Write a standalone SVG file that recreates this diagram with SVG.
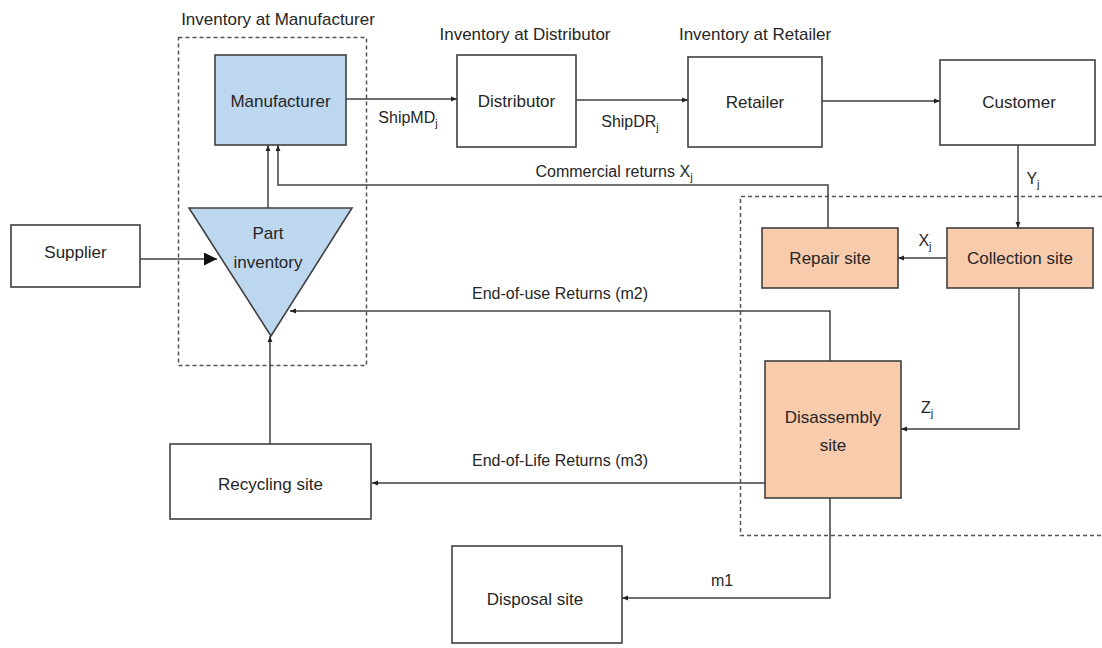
<svg xmlns="http://www.w3.org/2000/svg" width="1102" height="648" viewBox="0 0 1102 648">
<style>
text{font-family:"Liberation Sans",Arial,sans-serif;font-size:17px;fill:#262626;text-anchor:middle}
.box{fill:#fff;stroke:#404040;stroke-width:1.6}
.blue{fill:#BDD7EE;stroke:#404040;stroke-width:1.6}
.orange{fill:#F8CBAD;stroke:#404040;stroke-width:1.6}
.dash{fill:none;stroke:#555;stroke-width:1.5;stroke-dasharray:4 3}
.c{fill:none;stroke:#404040;stroke-width:1.5}
.lbl{font-size:16px}
</style>
<defs>
<marker id="a" viewBox="0 0 10 10" refX="10" refY="5" markerWidth="6" markerHeight="6" markerUnits="userSpaceOnUse" orient="auto"><path d="M0,1 L10,5 L0,9 z" fill="#222"/></marker>
<marker id="big" viewBox="0 0 10 10" refX="10" refY="5" markerWidth="13" markerHeight="13" markerUnits="userSpaceOnUse" orient="auto"><path d="M0,0 L10,5 L0,10 z" fill="#111"/></marker>
</defs>
<g id="dashed-groups">
<rect class="dash" x="178.5" y="37.5" width="188" height="328"/>
<path class="dash" d="M1102,196.5 H740.5 V535.5 H1102"/>
</g>
<g id="group-labels">
<text x="278" y="25">Inventory at Manufacturer</text>
<text x="525" y="40">Inventory at Distributor</text>
<text x="755" y="40">Inventory at Retailer</text>
</g>
<g id="connectors">
<path class="c" d="M346,99 H457" marker-end="url(#a)"/>
<path class="c" d="M576,100 H688" marker-end="url(#a)"/>
<path class="c" d="M822,101 H940" marker-end="url(#a)"/>
<path class="c" d="M1018,145 V228" marker-end="url(#a)"/>
<path class="c" d="M946,258 H898" marker-end="url(#a)"/>
<path class="c" d="M828,228 V185 H278 V145" marker-end="url(#a)"/>
<path class="c" d="M268,208 V145" marker-end="url(#a)"/>
<path class="c" d="M140,259 H217" stroke-width="2" marker-end="url(#big)"/>
<path class="c" d="M830,361 V311 H290" marker-end="url(#a)"/>
<path class="c" d="M1019,288 V429 H901" marker-end="url(#a)"/>
<path class="c" d="M765,483 H372" marker-end="url(#a)"/>
<path class="c" d="M270,444 V336" marker-end="url(#a)"/>
<path class="c" d="M830,498 V598 H622" marker-end="url(#a)"/>
<text class="lbl" x="408" y="123">ShipMD<tspan font-size="11" dy="4">j</tspan></text>
<text class="lbl" x="630" y="127">ShipDR<tspan font-size="11" dy="4">j</tspan></text>
<text class="lbl" x="1033" y="184">Y<tspan font-size="11" dy="4">j</tspan></text>
<text class="lbl" x="925" y="246">X<tspan font-size="11" dy="4">j</tspan></text>
<text class="lbl" x="614" y="177">Commercial returns X<tspan font-size="11" dy="4">j</tspan></text>
<text class="lbl" x="560" y="299">End-of-use Returns (m2)</text>
<text class="lbl" x="927" y="413">Z<tspan font-size="11" dy="4">j</tspan></text>
<text class="lbl" x="560" y="466">End-of-Life Returns (m3)</text>
<text class="lbl" x="722" y="586">m1</text>
</g>
<g id="manufacturer"><rect class="blue" x="215" y="55" width="131" height="90"/><text x="280.5" y="107">Manufacturer</text></g>
<g id="distributor"><rect class="box" x="457" y="55" width="119" height="92"/><text x="516.5" y="107">Distributor</text></g>
<g id="retailer"><rect class="box" x="688" y="57" width="134" height="90"/><text x="755" y="108">Retailer</text></g>
<g id="customer"><rect class="box" x="940" y="60" width="155" height="85"/><text x="1019" y="108">Customer</text></g>
<g id="part-inventory"><path class="blue" d="M189,208 H352 L271,336 z"/><text x="268" y="239">Part</text><text x="268" y="268">inventory</text></g>
<g id="supplier"><rect class="box" x="11" y="225" width="129" height="62"/><text x="75.5" y="258">Supplier</text></g>
<g id="repair-site"><rect class="orange" x="762" y="228" width="136" height="60"/><text x="830" y="264">Repair site</text></g>
<g id="collection-site"><rect class="orange" x="947" y="228" width="146" height="60"/><text x="1020" y="264">Collection site</text></g>
<g id="disassembly-site"><rect class="orange" x="765" y="361" width="136" height="137"/><text x="833" y="423">Disassembly</text><text x="833" y="451">site</text></g>
<g id="recycling-site"><rect class="box" x="170" y="444" width="201" height="75"/><text x="270.5" y="490">Recycling site</text></g>
<g id="disposal-site"><rect class="box" x="452" y="546" width="170" height="97"/><text x="535" y="605">Disposal site</text></g>
</svg>
